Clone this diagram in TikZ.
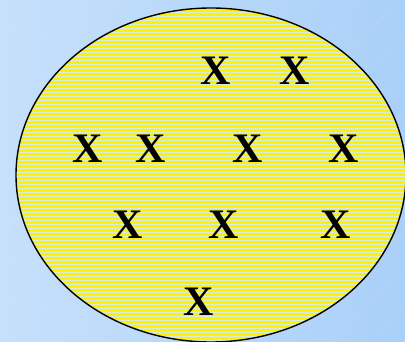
\documentclass[tikz,border=0pt]{standalone}
\usepackage{fontspec}
\setmainfont{Liberation Serif}
\definecolor{bgA}{RGB}{198,224,251}
\definecolor{bgB}{RGB}{170,208,248}
\definecolor{stripe}{RGB}{215,235,225}
\begin{document}
\begin{tikzpicture}[x=1pt,y=-1pt,
  xletter/.style={font=\fontsize{42}{42}\selectfont\bfseries, inner sep=0pt, text=black}]
\useasboundingbox (0,0) rectangle (405,342);
\shade[shading angle=135, left color=bgA, right color=bgB] (0,0) rectangle (405,342);
\foreach \k in {0,40,...,760}{
  \draw[white, opacity=0.12, line width=0.4pt] (\k-350,342) -- (\k,0);
}
\begin{scope}
  \clip (0,0) rectangle (405,342);
  \fill[yellow] (211,175) ellipse [x radius=195, y radius=167];
  \begin{scope}
    \clip (211,175) ellipse [x radius=195, y radius=167];
    \foreach \y in {8,12,...,344}{
      \draw[stripe, line width=0.6pt] (0,\y) -- (405,\y);
    }
  \end{scope}
  \draw[black, line width=1.4pt] (211,175) ellipse [x radius=195, y radius=167];
\end{scope}
\node[xletter] (a1) at (216,71) {X};
\node[xletter] (a2) at (295,71) {X};
\node[xletter] (b1) at (88,149) {X};
\node[xletter] (b2) at (151,149) {X};
\node[xletter] (b3) at (248,149) {X};
\node[xletter] (b4) at (344,149) {X};
\node[xletter] (c1) at (128,225) {X};
\node[xletter] (c2) at (224,225) {X};
\node[xletter] (c3) at (336,225) {X};
\node[xletter] (d1) at (199,302) {X};
\end{tikzpicture}
\end{document}
